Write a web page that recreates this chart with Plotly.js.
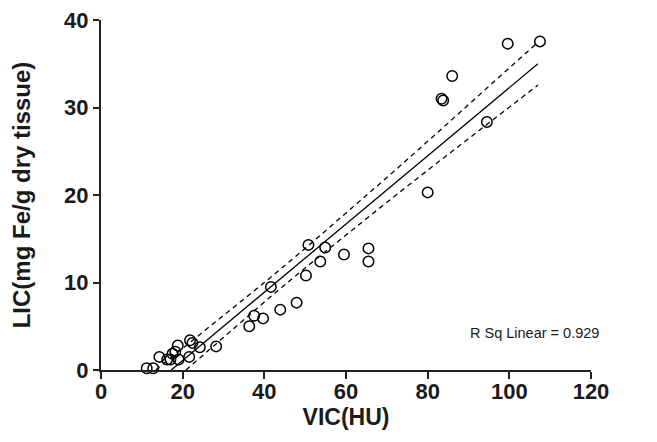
<!DOCTYPE html>
<html>
<head>
<meta charset="utf-8">
<script src="https://cdn.plot.ly/plotly-3.0.1.min.js"></script>
<style>html,body{margin:0;padding:0;background:#fff;}#chart{width:657px;height:442px;}</style>
</head>
<body>
<div id="chart"></div>
<script>
// Observed data: VIC (HU) vs LIC (mg Fe/g dry tissue)
var vic = [11.2, 12.8, 14.3, 16.2, 17.0, 17.5, 18.2, 18.8, 19.0, 21.6, 21.8, 22.4, 24.2, 28.2,
           36.3, 37.5, 39.7, 43.9, 47.9, 41.6, 50.2, 50.8, 53.7, 54.9, 59.5, 65.5, 65.5,
           80.0, 83.4, 83.8, 86.0, 94.5, 99.6, 107.5];
var lic = [0.2, 0.2, 1.5, 1.2, 1.2, 1.85, 2.1, 2.8, 1.2, 1.5, 3.4, 3.1, 2.6, 2.7,
           5.0, 6.2, 5.9, 6.9, 7.7, 9.5, 10.8, 14.3, 12.4, 14.0, 13.2, 13.9, 12.4,
           20.3, 31.0, 30.8, 33.6, 28.35, 37.3, 37.55];

// Fit line
var fitX = [17.2, 107];
var fitY = [0, 35.0];

// Confidence band
var upX = [13.4, 20, 30, 40, 50, 60, 70, 80, 90, 100, 107];
var upY = [0, 2.49, 6.2, 9.99, 13.89, 17.9, 21.99, 26.13, 30.31, 34.51, 37.46];
var loX = [20.8, 30, 40, 50, 60, 70, 80, 90, 100, 107];
var loY = [0, 3.76, 7.77, 11.67, 15.46, 19.17, 22.83, 26.45, 30.05, 32.56];

var xTicks = [0, 20, 40, 60, 80, 100, 120];
var yTicks = [0, 10, 20, 30, 40];

var tickFont = {family: 'Liberation Sans, Arial, sans-serif', size: 22, color: '#1a1a1a', weight: 'bold'};
var titleFont = {family: 'Liberation Sans, Arial, sans-serif', size: 23, color: '#1a1a1a', weight: 'bold'};
var yTitleFont = {family: 'Liberation Sans, Arial, sans-serif', size: 24, color: '#1a1a1a', weight: 'bold'};

var traces = [
  {x: upX, y: upY, mode: 'lines', line: {color: '#000', width: 1.3, dash: '5px,4px'}, hoverinfo: 'skip'},
  {x: loX, y: loY, mode: 'lines', line: {color: '#000', width: 1.3, dash: '5px,4px'}, hoverinfo: 'skip'},
  {x: fitX, y: fitY, mode: 'lines', line: {color: '#000', width: 1.3}, hoverinfo: 'skip'},
  {x: vic, y: lic, mode: 'markers', cliponaxis: false,
   marker: {symbol: 'circle-open', size: 10.5, color: '#000', line: {width: 1.5, color: '#000'}}}
];

var layout = {
  width: 657, height: 442,
  margin: {l: 101, r: 66, t: 20, b: 72, pad: 0},
  paper_bgcolor: '#fff', plot_bgcolor: '#fff',
  showlegend: false,
  xaxis: {
    range: [0, 120], tickvals: xTicks, ticktext: xTicks.map(String),
    showgrid: false, zeroline: false, showline: true, linecolor: '#222', linewidth: 2,
    ticks: 'outside', ticklen: 7, tickwidth: 2, tickcolor: '#222',
    ticklabelstandoff: -6,
    tickfont: tickFont,
    title: {text: 'VIC(HU)', font: titleFont, standoff: 2}
  },
  yaxis: {
    range: [0, 40], tickvals: yTicks, ticktext: yTicks.map(String),
    showgrid: false, zeroline: false, showline: true, linecolor: '#222', linewidth: 2,
    ticks: 'outside', ticklen: 6, tickwidth: 2, tickcolor: '#222',
    tickfont: tickFont,
    title: {text: 'LIC(mg Fe/g dry tissue)', font: yTitleFont, standoff: 27}
  },
  annotations: [{
    x: 0.885, y: 0.105, xref: 'paper', yref: 'paper', xanchor: 'center', yanchor: 'middle',
    text: 'R Sq Linear = 0.929', showarrow: false,
    font: {family: 'Liberation Sans, Arial, sans-serif', size: 14.5, color: '#1a1a1a'}
  }]
};

Plotly.newPlot('chart', traces, layout, {displayModeBar: false, staticPlot: true});
</script>
</body>
</html>
